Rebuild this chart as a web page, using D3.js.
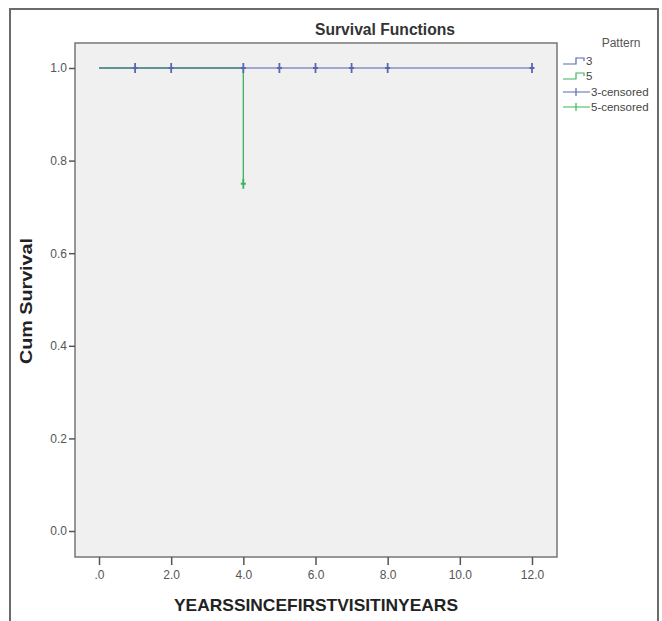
<!DOCTYPE html>
<html>
<head>
<meta charset="utf-8">
<script src="https://cdn.jsdelivr.net/npm/d3@7.9.0/dist/d3.min.js"></script>
<style>
  body { margin: 0; background: #fff; }
  svg { display: block; font-family: "Liberation Sans", Arial, sans-serif; }
</style>
</head>
<body>
<svg id="chart" width="662" height="621"></svg>
<script>
// === Data ===
const xTicks = [0, 2, 4, 6, 8, 10, 12];
const yTicks = [0, 0.2, 0.4, 0.6, 0.8, 1.0];

// survival step points [time, cum survival]
const pattern3Steps = [[0, 1.0], [12, 1.0]];
const pattern5Steps = [[0, 1.0], [4, 1.0], [4, 0.75]];

// censored observations
const pattern3Censored = [[1, 1.0], [2, 1.0], [4, 1.0], [5, 1.0], [6, 1.0], [7, 1.0], [8, 1.0], [12, 1.0]];
const pattern5Censored = [[4, 0.75]];

const legendLabels = ['3', '5', '3-censored', '5-censored'];

const blue = '#5a66b4';
const green = '#39b55a';

// === Layout ===
const svg = d3.select('#chart');
const plot = { left: 75, top: 43, right: 557, bottom: 557 };

const x = d3.scaleLinear().domain([0, 12]).range([99, 532]);
const y = d3.scaleLinear().domain([0, 1]).range([531, 68]);

// outer frame
svg.append('path')
  .attr('d', 'M10,625 V9 H658 V625')
  .attr('fill', 'none')
  .attr('stroke', '#6b6b6b')
  .attr('stroke-width', 2);

// plot background
svg.append('rect')
  .attr('x', plot.left).attr('y', plot.top)
  .attr('width', plot.right - plot.left).attr('height', plot.bottom - plot.top)
  .attr('fill', '#f0f0f0')
  .attr('stroke', '#777')
  .attr('stroke-width', 1.5);

// title
svg.append('text')
  .attr('x', 385).attr('y', 35)
  .attr('text-anchor', 'middle')
  .attr('font-size', 16).attr('font-weight', 'bold')
  .attr('fill', '#333')
  .attr('textLength', 140).attr('lengthAdjust', 'spacingAndGlyphs')
  .text('Survival Functions');

// === Axes ===
const yAxis = d3.axisLeft(y).tickValues(yTicks).tickSize(6).tickPadding(2)
  .tickFormat(d3.format('.1f'));
const gy = svg.append('g').attr('transform', `translate(${plot.left},0)`).call(yAxis);
gy.select('.domain').remove();

const xAxis = d3.axisBottom(x).tickValues(xTicks).tickSize(8).tickPadding(5)
  .tickFormat(d => d === 0 ? '.0' : d3.format('.1f')(d));
const gx = svg.append('g').attr('transform', `translate(0,${plot.bottom})`).call(xAxis);
gx.select('.domain').remove();

[gx, gy].forEach(g => {
  g.selectAll('line').attr('stroke', '#555').attr('stroke-width', 1.5);
  g.selectAll('text').attr('fill', '#555').attr('font-size', 12)
    .attr('font-family', '"Liberation Sans", Arial, sans-serif');
});

// axis labels
svg.append('text')
  .attr('transform', 'translate(32,301) rotate(-90)')
  .attr('text-anchor', 'middle')
  .attr('font-size', 16).attr('font-weight', 'bold')
  .attr('fill', '#222')
  .attr('textLength', 126).attr('lengthAdjust', 'spacingAndGlyphs')
  .text('Cum Survival');

svg.append('text')
  .attr('x', 316).attr('y', 611)
  .attr('text-anchor', 'middle')
  .attr('font-size', 17).attr('font-weight', 'bold')
  .attr('fill', '#222')
  .attr('textLength', 284).attr('lengthAdjust', 'spacingAndGlyphs')
  .text('YEARSSINCEFIRSTVISITINYEARS');

// === Survival lines ===
const line = d3.line().x(d => x(d[0])).y(d => y(d[1])).curve(d3.curveStepAfter);

svg.append('path')
  .datum(pattern5Steps)
  .attr('d', line)
  .attr('fill', 'none')
  .attr('stroke', green)
  .attr('stroke-width', 1.3);

svg.append('path')
  .datum(pattern3Steps)
  .attr('d', line)
  .attr('fill', 'none')
  .attr('stroke', blue)
  .attr('stroke-width', 1.3)
  .attr('stroke-opacity', 0.7);

// censor marks
function drawCensors(data, color) {
  const g = svg.append('g');
  data.forEach(d => {
    const cx = x(d[0]), cy = y(d[1]);
    g.append('path')
      .attr('d', `M${cx},${cy - 5} V${cy + 5} M${cx - 2.5},${cy} H${cx + 2.5}`)
      .attr('stroke', color)
      .attr('stroke-width', 1.8)
      .attr('fill', 'none');
  });
}
drawCensors(pattern5Censored, green);
drawCensors(pattern3Censored, blue);

// === Legend ===
const legend = svg.append('g');
legend.append('text')
  .attr('x', 621).attr('y', 47)
  .attr('text-anchor', 'middle')
  .attr('font-size', 12).attr('fill', '#555')
  .text('Pattern');

const legendColors = [blue, green, blue, green];
const legendY = [61, 76, 92, 107];

legendLabels.forEach((label, i) => {
  const ly = legendY[i];
  const color = legendColors[i];
  if (i < 2) {
    legend.append('path')
      .attr('d', `M563,${ly + 3} H576 V${ly - 3} H584 V${ly}`)
      .attr('fill', 'none').attr('stroke', color).attr('stroke-width', 1.2);
  } else {
    legend.append('path')
      .attr('d', `M563,${ly} H590 M576,${ly - 4} V${ly + 4}`)
      .attr('fill', 'none').attr('stroke', color).attr('stroke-width', 1.2);
  }
  legend.append('text')
    .attr('x', i < 2 ? 586 : 591).attr('y', ly + 4)
    .attr('font-size', 11.5).attr('fill', '#444')
    .text(label);
});
</script>
</body>
</html>
